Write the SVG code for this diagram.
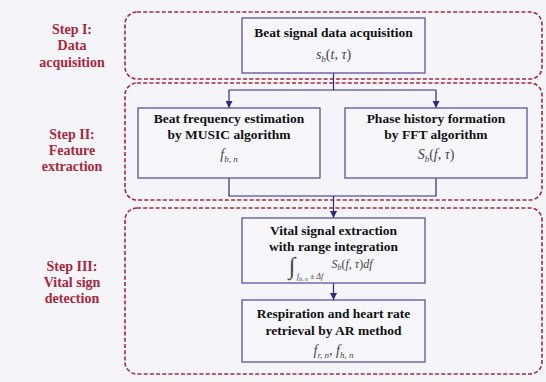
<svg xmlns="http://www.w3.org/2000/svg" width="546" height="382" viewBox="0 0 546 382">
<defs>
<style>
.bg{fill:#f4f4f9}
.stage{fill:none;stroke:#a3283f;stroke-width:1.6;stroke-dasharray:4 2.2}
.box{fill:#f7f7fb;stroke:#5b52a0;stroke-width:1.3}
.step{font-family:"Liberation Serif",serif;font-weight:bold;font-size:14px;fill:#a8283c;text-anchor:middle}
.t{font-family:"Liberation Serif",serif;font-weight:bold;font-size:13.5px;fill:#111;text-anchor:middle}
.m{font-family:"Liberation Serif",serif;font-style:italic;font-size:14px;fill:#444;text-anchor:middle}
.up{font-style:normal}
.sub{font-size:9px}
.conn{fill:none;stroke:#2d2b7d;stroke-width:1.2}
</style>
<marker id="ah" viewBox="0 0 10 10" refX="10" refY="5" markerWidth="7" markerHeight="7" markerUnits="userSpaceOnUse" orient="auto">
<path d="M0,0 L10,5 L0,10 z" fill="#2d2b7d"/>
</marker>
</defs>
<rect class="bg" x="0" y="0" width="546" height="382"/>

<g id="stages">
<rect class="stage" x="125" y="12" width="417" height="67" rx="12"/>
<rect class="stage" x="125" y="83" width="417" height="117" rx="12"/>
<rect class="stage" x="125" y="208" width="417" height="166" rx="12"/>
</g>

<g id="step-labels">
<text class="step" x="72" y="34">Step I:</text>
<text class="step" x="72" y="50">Data</text>
<text class="step" x="72" y="67">acquisition</text>
<text class="step" x="72" y="139">Step II:</text>
<text class="step" x="72" y="155">Feature</text>
<text class="step" x="72" y="171">extraction</text>
<text class="step" x="72" y="271">Step III:</text>
<text class="step" x="72" y="287">Vital sign</text>
<text class="step" x="72" y="303">detection</text>
</g>

<g id="connectors">
<path class="conn" d="M333.5,73 V90 M229,90 H436"/>
<path class="conn" d="M229,90 V108" marker-end="url(#ah)"/>
<path class="conn" d="M436,90 V108" marker-end="url(#ah)"/>
<path class="conn" d="M229,178 V196 H436 V178"/>
<path class="conn" d="M333.5,196 V218" marker-end="url(#ah)"/>
<path class="conn" d="M333.5,283 V300" marker-end="url(#ah)"/>
</g>

<g id="node-acquisition">
<rect class="box" x="242" y="18" width="183" height="55"/>
<text class="t" x="333.5" y="37">Beat signal data acquisition</text>
<text class="m" x="333.5" y="59">s<tspan class="sub" dy="3">b</tspan><tspan class="up" dy="-3">(</tspan>t<tspan class="up">, </tspan>τ<tspan class="up">)</tspan></text>
</g>

<g id="node-music">
<rect class="box" x="138" y="108" width="182" height="70"/>
<text class="t" x="229" y="123">Beat frequency estimation</text>
<text class="t" x="229" y="139">by MUSIC algorithm</text>
<text class="m" x="229" y="159">f<tspan class="sub" dy="3">b, n</tspan></text>
</g>

<g id="node-fft">
<rect class="box" x="345" y="108" width="182" height="70"/>
<text class="t" x="436" y="123">Phase history formation</text>
<text class="t" x="436" y="139">by FFT algorithm</text>
<text class="m" x="436" y="159">S<tspan class="sub" dy="3">b</tspan><tspan class="up" dy="-3">(</tspan>f<tspan class="up">, </tspan>τ<tspan class="up">)</tspan></text>
</g>

<g id="node-extraction">
<rect class="box" x="242" y="218" width="183" height="65"/>
<text class="t" x="333.5" y="235">Vital signal extraction</text>
<text class="t" x="333.5" y="251">with range integration</text>
<text class="m up" x="292" y="274" style="font-size:24px">∫</text>
<text class="m" x="310" y="279" style="font-size:8px">f<tspan style="font-size:6px" dy="2">b, n</tspan><tspan dy="-2"> ± Δf</tspan></text>
<text class="m" x="352" y="268" style="font-size:12px">S<tspan style="font-size:8px" dy="2">b</tspan><tspan class="up" dy="-2">(</tspan>f<tspan class="up">, </tspan>τ<tspan class="up">)</tspan>df</text>
</g>

<g id="node-rate">
<rect class="box" x="242" y="300" width="183" height="62"/>
<text class="t" x="333.5" y="318">Respiration and heart rate</text>
<text class="t" x="333.5" y="335">retrieval by AR method</text>
<text class="m" x="333.5" y="355">f<tspan class="sub" dy="3">r, n</tspan><tspan class="up" dy="-3">, </tspan>f<tspan class="sub" dy="3">h, n</tspan></text>
</g>
</svg>
